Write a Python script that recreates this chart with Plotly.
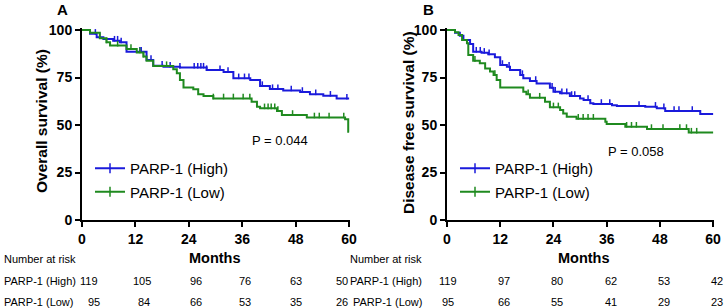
import plotly.graph_objects as go

# ---------------- data ----------------
months_ticks = [0, 12, 24, 36, 48, 60]
pct_ticks = [0, 25, 50, 75, 100]
series_names = ["PARP-1 (High)", "PARP-1 (Low)"]

# Panel A: overall survival (step curves)
os_high_t = [0, 0.3, 1.8, 3.3, 4.8, 7.0, 8.5, 10.0, 14.5, 16.0, 18.3, 22.0, 28.0, 31.8, 34.0, 37.8, 40.0, 42.2, 45.2, 49.0, 51.2, 54.2, 57.2, 60.0]
os_high_s = [100, 100, 98.0, 96.2, 95.3, 94.4, 93.5, 88.6, 84.2, 81.2, 80.7, 80.2, 78.9, 77.9, 74.6, 73.7, 70.5, 68.9, 68.2, 67.4, 66.2, 65.4, 63.9, 63.9]
os_low_t = [0, 0.5, 1.8, 4.0, 5.5, 6.3, 10.0, 12.3, 13.8, 14.5, 16.0, 20.5, 21.3, 22.0, 22.8, 25.0, 26.1, 27.3, 29.5, 38.1, 39.3, 40.0, 43.8, 44.9, 50.5, 59.1, 59.8, 60.0]
os_low_s = [100, 100, 98.5, 95.7, 93.5, 91.8, 90.0, 88.2, 86.0, 83.8, 81.0, 79.3, 77.2, 73.7, 69.8, 68.8, 66.2, 65.3, 64.0, 62.3, 59.6, 58.8, 57.4, 55.3, 54.0, 53.0, 46.5, 46.5]
os_high_cens = [3.0, 4.0, 7.3, 8.0, 8.8, 13.0, 13.3, 15.5, 18.0, 19.8, 22.0, 25.2, 26.0, 26.7, 27.3, 28.0, 31.0, 32.8, 35.2, 36.5, 37.5, 40.5, 42.8, 44.0, 47.0, 49.5, 52.5, 55.8, 59.5]
os_low_cens = [5.5, 8.0, 11.0, 13.0, 13.8, 19.0, 29.5, 31.8, 34.0, 36.2, 37.7, 41.0, 41.8, 42.5, 43.3, 44.0, 47.3, 52.2, 53.3, 55.5, 58.8]
os_p = "P = 0.044"

# Panel B: disease free survival (step curves)
dfs_high_t = [0, 0.3, 1.8, 2.9, 3.7, 5.2, 5.9, 7.8, 9.3, 10.8, 12.0, 13.5, 14.2, 16.5, 17.2, 18.7, 20.2, 23.2, 24.0, 25.5, 27.7, 30.0, 30.8, 32.3, 33.0, 37.2, 38.3, 44.7, 47.3, 49.2, 57.1, 60.0]
dfs_high_s = [100, 100, 98.5, 97.0, 94.7, 92.6, 88.6, 88.0, 87.2, 85.6, 81.6, 80.7, 78.9, 76.3, 74.6, 73.2, 71.9, 69.6, 67.5, 66.7, 65.3, 64.0, 63.2, 61.4, 61.1, 60.4, 60.0, 59.6, 58.8, 57.4, 55.8, 55.8]
dfs_low_t = [0, 0.5, 1.8, 2.6, 3.4, 4.5, 4.8, 5.9, 7.4, 8.6, 9.7, 10.5, 11.2, 12.0, 17.2, 17.9, 18.7, 22.1, 23.2, 25.5, 26.2, 27.0, 29.2, 35.7, 36.0, 40.2, 45.1, 54.5, 60.0]
dfs_low_s = [100, 100, 98.8, 97.4, 94.7, 93.0, 86.8, 83.8, 82.5, 79.8, 78.1, 76.3, 73.7, 69.8, 67.5, 66.2, 64.4, 62.3, 59.3, 57.9, 56.1, 54.4, 53.3, 51.7, 50.5, 49.1, 47.9, 46.0, 46.0]
dfs_high_cens = [6.6, 7.5, 8.4, 9.5, 12.5, 14.0, 17.0, 20.0, 23.7, 24.4, 25.9, 27.0, 28.1, 28.8, 31.8, 34.8, 36.7, 43.3, 47.0, 48.9, 51.2, 52.3, 55.3]
dfs_low_cens = [6.3, 10.8, 18.3, 20.9, 24.0, 25.1, 29.6, 30.7, 31.8, 33.0, 40.5, 41.6, 42.7, 46.1, 48.7, 52.5, 54.0, 55.1, 56.3]
dfs_p = "P = 0.058"

risk_os_high = [119, 105, 96, 76, 63, 50]
risk_os_low = [95, 84, 66, 53, 35, 26]
risk_dfs_high = [119, 97, 80, 62, 53, 42]
risk_dfs_low = [95, 66, 55, 41, 29, 23]

# ---------------- style ----------------
W, H = 726, 308
BLUE = "#1a1adb"
GREEN = "#1f8a1f"
FONT = "Arial, Liberation Sans, sans-serif"

def px(x):
    return x / W

def py(y):
    return 1 - y / H

def step_at(ts, ss, t):
    v = ss[0]
    for ti, si in zip(ts, ss):
        if ti <= t:
            v = si
    return v

fig = go.Figure()

panels = [
    dict(xa="x", ya="y", leg="legend", curves=[(os_high_t, os_high_s, os_high_cens, BLUE), (os_low_t, os_low_s, os_low_cens, GREEN)]),
    dict(xa="x2", ya="y2", leg="legend2", curves=[(dfs_high_t, dfs_high_s, dfs_high_cens, BLUE), (dfs_low_t, dfs_low_s, dfs_low_cens, GREEN)]),
]

for p in panels:
    for name, (ts, ss, cens, col) in zip(series_names, p["curves"]):
        fig.add_trace(go.Scatter(x=ts, y=ss, mode="lines", line=dict(color=col, width=2, shape="hv"),
                                 xaxis=p["xa"], yaxis=p["ya"], showlegend=False, hoverinfo="skip"))
        fig.add_trace(go.Scatter(x=cens, y=[step_at(ts, ss, c) + 1.0 for c in cens], mode="markers",
                                 marker=dict(symbol="line-ns", size=4, line=dict(color=col, width=1.5)),
                                 xaxis=p["xa"], yaxis=p["ya"], showlegend=False, hoverinfo="skip"))
    for i, (name, col) in enumerate(zip(series_names, [BLUE, GREEN])):
        fig.add_trace(go.Scatter(x=[None], y=[None], mode="lines+markers", name=name,
                                 line=dict(color=col, width=2),
                                 marker=dict(symbol="line-ns", size=7, line=dict(color=col, width=1.5)),
                                 xaxis=p["xa"], yaxis=p["ya"], legend=p["leg"], legendgroup=f"{p['leg']}{i}"))

y_dom = [py(220), py(28.1)]
axis_common = dict(showgrid=False, zeroline=False, showline=True, linecolor="black", linewidth=2,
                   ticks="outside", ticklen=5, tickwidth=2, tickcolor="black", automargin=False,
                   tickfont=dict(family=FONT, size=14, color="black", weight="bold"))

fig.update_layout(
    template="none",
    width=W, height=H, margin=dict(l=0, r=0, t=0, b=0, pad=0, autoexpand=False),
    paper_bgcolor="white", plot_bgcolor="white",
    font=dict(family=FONT, color="black"),
    xaxis=dict(domain=[px(82), px(350)], range=[0, 60.2], tickvals=months_ticks, anchor="y", **axis_common),
    yaxis=dict(domain=y_dom, range=[0, 101], tickvals=pct_ticks, anchor="x", **axis_common),
    xaxis2=dict(domain=[px(447), px(714)], range=[0, 60.2], tickvals=months_ticks, anchor="y2", **axis_common),
    yaxis2=dict(domain=y_dom, range=[0, 101], tickvals=pct_ticks, anchor="x2", **axis_common),
    legend=dict(x=px(90), y=py(152), xanchor="left", yanchor="top", bgcolor="rgba(0,0,0,0)",
                font=dict(family=FONT, size=15, color="black"), tracegroupgap=1, itemwidth=30),
    legend2=dict(x=px(455), y=py(152), xanchor="left", yanchor="top", bgcolor="rgba(0,0,0,0)",
                 font=dict(family=FONT, size=15, color="black"), tracegroupgap=1, itemwidth=30),
)

ann = []
def add(text, x, y, size=11, bold=False, xanchor="center", angle=0):
    ann.append(dict(text=text, x=px(x), y=py(y), xref="paper", yref="paper", showarrow=False,
                    xanchor=xanchor, yanchor="middle", textangle=angle,
                    font=dict(family=FONT, size=size, color="black", weight="bold" if bold else "normal")))

add("A", 62, 9, size=15, bold=True)
add("B", 428, 9, size=15, bold=True)
add("Overall survival (%)", 42, 121, size=15.5, bold=True, angle=-90)
add("Disease free survival (%)", 408, 123, size=15.5, bold=True, angle=-90)
add("Months", 215, 258, size=14.5, bold=True)
add("Months", 584, 258, size=14.5, bold=True)
add(os_p, 280, 140, size=13)
add(dfs_p, 636, 151, size=13)

# number-at-risk table
ROW0, ROW1, ROW2 = 259, 281, 301.5
add("Number at risk", 2, ROW0, xanchor="left")
add(series_names[0], 2, ROW1, xanchor="left")
add(series_names[1], 2, ROW2, xanchor="left")
add("Number at risk", 424, ROW0, xanchor="right")
add(series_names[0], 424, ROW1, xanchor="right")
add(series_names[1], 424, ROW2, xanchor="right")

cols_a_high = [89, 142, 196, 245, 296, 342]
cols_a_low = [94, 144, 196, 245, 296, 342]
cols_b = [448, 504, 557, 611, 664, 717]
for v, x in zip(risk_os_high, cols_a_high):
    add(str(v), x, ROW1)
for v, x in zip(risk_os_low, cols_a_low):
    add(str(v), x, ROW2)
for v, x in zip(risk_dfs_high, cols_b):
    add(str(v), x, ROW1)
for v, x in zip(risk_dfs_low, cols_b):
    add(str(v), x, ROW2)

fig.update_layout(annotations=ann)
fig.write_html(
    "out.html",
    config={"displayModeBar": False, "responsive": False},
    post_script=(
        "document.documentElement.style.margin='0';document.documentElement.style.overflow='hidden';"
        "document.body.style.margin='0';document.body.style.padding='0';document.body.style.overflow='hidden';"
    ),
)
